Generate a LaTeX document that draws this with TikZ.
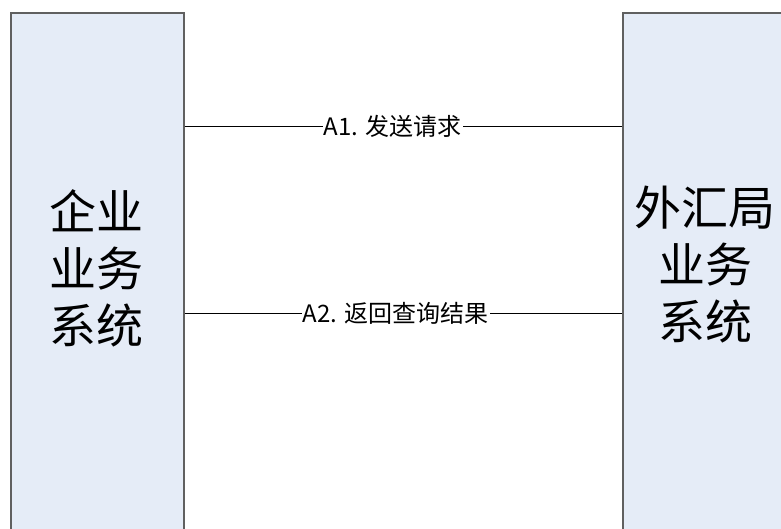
\documentclass[tikz,border=0pt]{standalone}
\usepackage{fontspec}
\newfontfamily\cjk{Noto Sans CJK SC}
\definecolor{boxfill}{HTML}{E5ECF7}
\definecolor{boxline}{HTML}{606060}
\tikzset{
    sysbox/.style = {draw=boxline, line width=1.6pt, fill=boxfill, inner sep=0pt,
                     anchor=north west},
    systext/.style = {align=center, font=\cjk\fontsize{47}{57}\selectfont},
    msg/.style = {line width=0.9pt},
    msglabel/.style = {fill=white, inner sep=1pt, font=\cjk\fontsize{24}{26}\selectfont}
}
\begin{document}
\begin{tikzpicture}[x=1pt,y=-1pt]
    \useasboundingbox (0,0) rectangle (781,528);
    \clip (0,0) rectangle (781,528);
    % the two systems
    \node[sysbox, minimum width=173pt, minimum height=540pt] (qiye) at (10,12) {};
    \node[sysbox, minimum width=180pt, minimum height=540pt] (waihui) at (622,12) {};
    \node[systext] (qiyetext) at (96,268) {企业\\业务\\系统};
    \node[systext] (waihuitext) at (705,265) {外汇局\\业务\\系统};
    % messages
    \coordinate (req) at (0,126);
    \coordinate (res) at (0,313);
    \draw[msg] (qiye.east |- req) -- node[msglabel, pos=0.476] (reqlabel) {A1. 发送请求} (waihui.west |- req);
    \draw[msg] (qiye.east |- res) -- node[msglabel, pos=0.483] (reslabel) {A2. 返回查询结果} (waihui.west |- res);
\end{tikzpicture}
\end{document}
